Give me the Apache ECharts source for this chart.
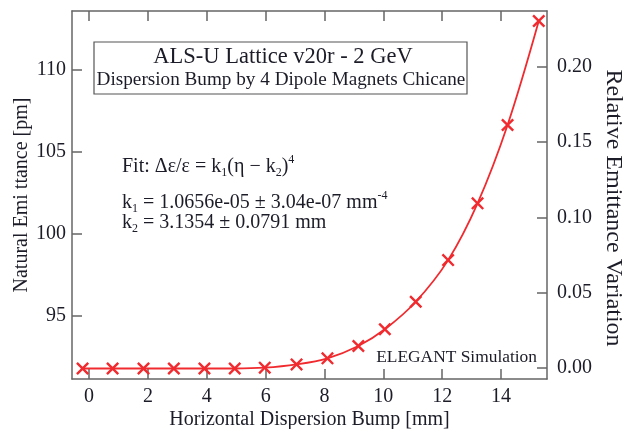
<!DOCTYPE html>
<html>
<head>
<meta charset="utf-8">
<title>ALS-U dispersion bump</title>
<script src="https://cdn.jsdelivr.net/npm/echarts@6/dist/echarts.min.js"></script>
<style>
    html, body { margin: 0; padding: 0; background: #fff; }
    #main { width: 627px; height: 429px; }
</style>
</head>
<body>
<div id="main"></div>
<script>
// 数据
var dispersion = [-0.22, 0.8, 1.85, 2.88, 3.92, 4.95, 5.97, 7.05, 8.1, 9.15, 10.05, 11.1, 12.2, 13.2, 14.22, 15.28];
var emittance = [91.8, 91.8, 91.8, 91.8, 91.8, 91.8, 91.85, 92.05, 92.42, 93.17, 94.19, 95.87, 98.41, 101.87, 106.65, 112.99];
var xTicks = [0, 2, 4, 6, 8, 10, 12, 14];
var yTicks = [95, 100, 105, 110];
var relTicks = [0, 0.05, 0.1, 0.15, 0.2];

var baseEmit = 91.83;
var yMin = 91.16, yMax = 113.6;

var points = [];
for (var i = 0; i < dispersion.length; i++) {
    points.push([dispersion[i], emittance[i]]);
}

var serif = 'Liberation Serif';
var ink = '#1c1c28';
var frame = '#666';
var red = '#f02a2e';

var myChart = echarts.init(document.getElementById('main'));

function axisCommon() {
    return {
        axisLine: { show: true, onZero: false, lineStyle: { color: frame, width: 1.5 } },
        axisTick: { show: true, inside: true, length: 10, lineStyle: { color: frame, width: 1.5 } },
        splitLine: { show: false },
        nameMoveOverlap: false,
        nameTextStyle: { fontFamily: serif, fontSize: 20, color: ink },
        axisLabel: { fontFamily: serif, fontSize: 20, color: ink }
    };
}

var xBottom = axisCommon();
xBottom.type = 'value';
xBottom.position = 'bottom';
xBottom.min = -0.58;
xBottom.max = 15.56;
xBottom.name = 'Horizontal Dispersion Bump [mm]';
xBottom.nameLocation = 'middle';
xBottom.nameGap = 31;
xBottom.axisTick.customValues = xTicks;
xBottom.axisLabel.customValues = xTicks;
xBottom.axisLabel.margin = 8;

// 顶部镜像刻度
var xTop = axisCommon();
xTop.type = 'value';
xTop.position = 'top';
xTop.min = -0.58;
xTop.max = 15.56;
xTop.axisTick.customValues = xTicks;
xTop.axisLabel = { show: false };

var yLeft = axisCommon();
yLeft.type = 'value';
yLeft.position = 'left';
yLeft.min = yMin;
yLeft.max = yMax;
yLeft.name = 'Natural Emi ttance [pm]';
yLeft.nameLocation = 'middle';
yLeft.nameGap = 40;
yLeft.axisTick.customValues = yTicks;
yLeft.axisLabel.customValues = yTicks;
yLeft.axisLabel.margin = 6;

// 右轴：相对变化（轴名用 graphic 画，位置偏下）
var yRight = axisCommon();
yRight.type = 'value';
yRight.position = 'right';
yRight.min = yMin / baseEmit - 1;
yRight.max = yMax / baseEmit - 1;
yRight.axisTick.customValues = relTicks;
yRight.axisLabel.customValues = relTicks;
yRight.axisLabel.margin = 10;
yRight.axisLabel.formatter = function (v) { return v.toFixed(2); };

var crossPath = 'path://M0,1.3L1.3,0L5,3.7L8.7,0L10,1.3L6.3,5L10,8.7L8.7,10L5,6.3L1.3,10L0,8.7L3.7,5Z';

var richStyle = {
    t: { fontFamily: serif, fontSize: 20, lineHeight: 30, verticalAlign: 'middle', fill: ink },
    sub: { fontFamily: serif, fontSize: 12, lineHeight: 30, verticalAlign: 'bottom', padding: [0, 0, 3, 0], fill: ink },
    sup: { fontFamily: serif, fontSize: 12, lineHeight: 30, verticalAlign: 'top', padding: [2, 0, 0, 0], fill: ink }
};

var option = {
    animation: false,
    backgroundColor: '#fff',
    grid: { left: 72, right: 80, top: 11, bottom: 50, outerBoundsMode: 'none' },
    xAxis: [xBottom, xTop],
    yAxis: [yLeft, yRight],
    series: [{
        type: 'line',
        data: points,
        smooth: 0.35,
        symbol: crossPath,
        symbolSize: 13,
        showAllSymbol: true,
        lineStyle: { color: red, width: 1.8 },
        itemStyle: { color: red }
    }],
    graphic: [
        // 标题框
        {
            type: 'rect',
            shape: { x: 94, y: 42, width: 373, height: 52 },
            style: { fill: '#fff', stroke: '#555', lineWidth: 1.2 },
            z: 10
        },
        {
            type: 'text',
            x: 283, y: 57,
            style: { text: 'ALS-U Lattice v20r - 2 GeV', font: '22.5px "Liberation Serif"', fill: ink, align: 'center', verticalAlign: 'middle' },
            z: 11
        },
        {
            type: 'text',
            x: 281, y: 80,
            style: { text: 'Dispersion Bump by 4 Dipole Magnets Chicane', font: '19.2px "Liberation Serif"', fill: ink, align: 'center', verticalAlign: 'middle' },
            z: 11
        },
        // 拟合公式
        {
            type: 'text',
            x: 122, y: 152,
            style: { text: '{t|Fit: Δε/ε = k}{sub|1}{t|(η − k}{sub|2}{t|)}{sup|4}', fill: ink, rich: richStyle },
            z: 11
        },
        {
            type: 'text',
            x: 122, y: 188,
            style: { text: '{t|k}{sub|1}{t| = 1.0656e-05 ± 3.04e-07 mm}{sup|-4}', fill: ink, rich: richStyle },
            z: 11
        },
        {
            type: 'text',
            x: 122, y: 208,
            style: { text: '{t|k}{sub|2}{t| = 3.1354 ± 0.0791 mm}', fill: ink, rich: richStyle },
            z: 11
        },
        {
            type: 'text',
            x: 537, y: 357,
            style: { text: 'ELEGANT Simulation', font: '17.4px "Liberation Serif"', fill: ink, align: 'right', verticalAlign: 'middle' },
            z: 11
        },
        // 右轴名
        {
            type: 'text',
            x: 613, y: 208,
            rotation: -Math.PI / 2,
            style: { text: 'Relative Emittance Variation', font: '24px "Liberation Serif"', fill: ink, align: 'center', verticalAlign: 'middle' },
            z: 11
        }
    ]
};

myChart.setOption(option);
</script>
</body>
</html>
